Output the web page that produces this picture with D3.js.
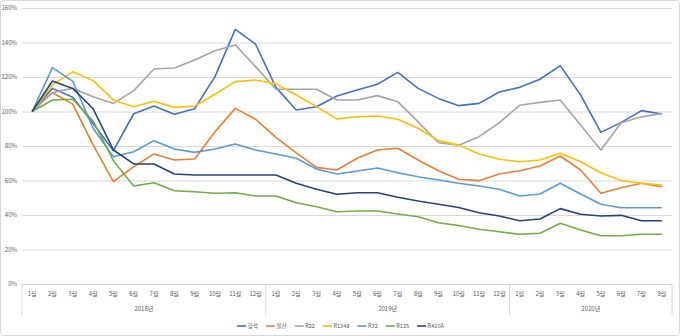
<!DOCTYPE html>
<html>
<head>
<meta charset="utf-8">
<script src="https://cdn.jsdelivr.net/npm/d3@7"></script>
<style>
  body { margin: 0; background: #fff; }
  text { font-family: "Noto Sans CJK KR", "Noto Sans", sans-serif; fill: #595959; }
</style>
</head>
<body>
<svg id="chart"></svg>
<script>
// Categories: month labels and year groups
const months = ["1월","2월","3월","4월","5월","6월","7월","8월","9월","10월","11월","12월",
                "1월","2월","3월","4월","5월","6월","7월","8월","9월","10월","11월","12월",
                "1월","2월","3월","4월","5월","6월","7월","8월"];
const years = [
  { label: "2018년", start: 0, end: 12 },
  { label: "2019년", start: 12, end: 24 },
  { label: "2020년", start: 24, end: 32 }
];
const yTicks = [0, 20, 40, 60, 80, 100, 120, 140, 160];

// Series values (%, Jan 2018 = 100)
const hyungseok = [100, 113.4, 108.2, 93, 77.3, 98.7, 103.2, 98.4, 101.6, 120.2, 147.6, 139, 114, 100.9, 102.8, 109, 112.5, 115.8, 122.7, 113.4, 107.6, 103.4, 104.7, 111.3, 114, 118.7, 126.6, 109.6, 87.9, 93.7, 100.5, 98.6];
const bulsan = [100, 110.9, 104.3, 80.6, 59.3, 68, 75.4, 71.9, 72.5, 88.3, 101.8, 95.5, 85, 76, 67.6, 66.1, 72.9, 77.7, 78.7, 71.9, 65.7, 60.7, 59.9, 63.8, 65.7, 68.4, 74.2, 66.1, 52.6, 55.8, 58.4, 56.4];
const r22 = [100, 111, 113.4, 108.6, 104.7, 112.1, 124.6, 125.2, 129.9, 135.2, 138.6, 126, 112.9, 112.9, 112.9, 106.7, 106.7, 109.2, 105.7, 94, 81.9, 80.4, 85.4, 93.5, 103.6, 105.3, 106.7, 92.2, 77.7, 93.5, 96.9, 98.8];
const r134a = [100, 115.4, 123.1, 117.9, 106.7, 102.8, 105.9, 102.4, 103.2, 110, 117.3, 118.3, 116, 109.6, 102.8, 95.7, 97, 97.4, 95.5, 90.3, 83.1, 80.5, 75.4, 72.3, 70.9, 71.9, 75.8, 70.9, 64.5, 59.9, 58.4, 57.4];
const r32 = [100, 125.4, 117.5, 90.3, 73.8, 76.7, 83.1, 78.3, 76.3, 78.3, 81.2, 77.7, 75.4, 72.9, 66.7, 63.8, 65.5, 67.2, 64.5, 62.2, 60.3, 58.4, 56.8, 54.9, 51, 52.2, 58.4, 52.2, 46.2, 44.2, 44.2, 44.2];
const r125 = [100, 106.7, 107.1, 94.5, 71.5, 56.8, 58.7, 54.1, 53.5, 52.6, 52.9, 51, 51, 47.1, 44.8, 41.9, 42.3, 42.3, 40.6, 39, 35.5, 33.9, 31.7, 30.3, 28.8, 29.4, 35.2, 31.3, 28, 28, 28.8, 28.8];
const r410a = [100, 117.7, 113.4, 101.6, 77.7, 69.6, 69.6, 63.8, 63.2, 63.2, 63.2, 63.2, 63.2, 58.4, 54.9, 52, 52.9, 52.9, 50.3, 48.1, 46.2, 44.3, 41.3, 39.4, 36.7, 37.7, 43.7, 40.4, 39.4, 39.8, 36.7, 36.7];

const series = [
  { name: "형석", values: hyungseok, color: "#4472C4" },
  { name: "불산", values: bulsan, color: "#ED7D31" },
  { name: "R22", values: r22, color: "#A5A5A5" },
  { name: "R134a", values: r134a, color: "#FFC000" },
  { name: "R32", values: r32, color: "#5B9BD5" },
  { name: "R125", values: r125, color: "#70AD47" },
  { name: "R410A", values: r410a, color: "#264478" }
];

const W = 680, H = 336;
const plot = { left: 22, right: 672, top: 8, bottom: 284 };

const svg = d3.select("#chart").attr("width", W).attr("height", H);

// chart area border
svg.append("rect")
  .attr("x", 0.5).attr("y", 0.5)
  .attr("width", W - 1).attr("height", H - 1)
  .attr("rx", 3)
  .attr("fill", "#fff")
  .attr("stroke", "#D9D9D9");

const x = d3.scaleBand()
  .domain(d3.range(months.length))
  .range([plot.left, plot.right]);
const cx = i => x(i) + x.bandwidth() / 2;

const y = d3.scaleLinear()
  .domain([0, 160])
  .range([plot.bottom, plot.top]);

// gridlines + y labels
const yAxis = d3.axisLeft(y)
  .tickValues(yTicks)
  .tickSize(-(plot.right - plot.left))
  .tickPadding(5)
  .tickFormat(d => d + "%");

svg.append("g")
  .attr("transform", `translate(${plot.left},0)`)
  .call(yAxis)
  .call(g => g.select(".domain").remove())
  .call(g => g.selectAll("line").attr("stroke", "#D9D9D9").attr("stroke-width", 1))
  .call(g => g.selectAll("text").attr("font-size", 6).style("fill", "#595959"));

// x axis: months
svg.append("g")
  .selectAll("text")
  .data(months)
  .join("text")
  .attr("x", (d, i) => cx(i))
  .attr("y", 296)
  .attr("text-anchor", "middle")
  .attr("font-size", 6)
  .text(d => d);

// year group separators
const bounds = [0, 12, 24, 32].map(i => i < months.length ? x(i) : plot.right);
svg.append("g")
  .selectAll("line")
  .data(bounds)
  .join("line")
  .attr("x1", d => d).attr("x2", d => d)
  .attr("y1", plot.bottom).attr("y2", 315)
  .attr("stroke", "#D9D9D9");

svg.append("g")
  .selectAll("text")
  .data(years)
  .join("text")
  .attr("x", d => (x(d.start) + (d.end < months.length ? x(d.end) : plot.right)) / 2)
  .attr("y", 311)
  .attr("text-anchor", "middle")
  .attr("font-size", 6)
  .text(d => d.label);

// lines
const line = d3.line()
  .x((d, i) => cx(i))
  .y(d => y(d));

svg.append("g")
  .selectAll("path")
  .data(series)
  .join("path")
  .attr("fill", "none")
  .attr("stroke", d => d.color)
  .attr("stroke-width", 1.6)
  .attr("stroke-linejoin", "round")
  .attr("d", d => line(d.values));

// legend, centered under the plot
const legend = svg.append("g");
let lx = 0;
series.forEach(s => {
  const item = legend.append("g").attr("transform", `translate(${lx},0)`);
  item.append("line")
    .attr("x1", 0).attr("x2", 9)
    .attr("y1", 0).attr("y2", 0)
    .attr("stroke", s.color)
    .attr("stroke-width", 1.6);
  const t = item.append("text")
    .attr("x", 10.5)
    .attr("y", 2)
    .attr("font-size", 5.6)
    .text(s.name);
  lx += 10.5 + t.node().getComputedTextLength() + 8;
});
lx -= 8;
legend.attr("transform", `translate(${(234 + 447) / 2 - lx / 2},326)`);
</script>
</body>
</html>
